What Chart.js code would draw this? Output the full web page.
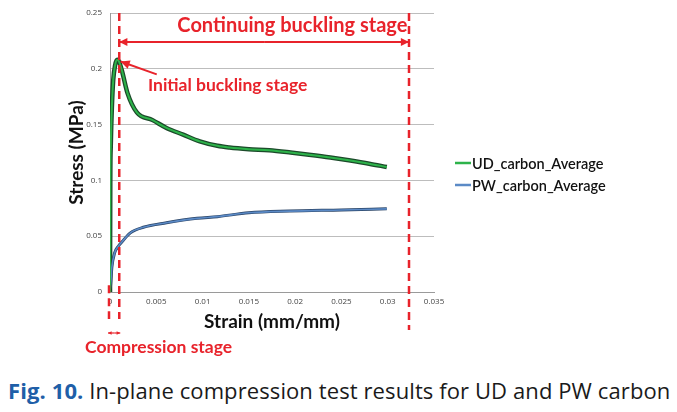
<!DOCTYPE html>
<html>
<head>
<meta charset="utf-8">
<script src="https://cdn.jsdelivr.net/npm/chart.js@4"></script>
<style>
  body { margin: 0; background: #fff; width: 677px; height: 412px; overflow: hidden; }
  #wrap { position: absolute; left: 0; top: 0; width: 677px; height: 370px; }
  #cap { position: absolute; left: 8px; top: 375px; font-family: 'Open Sans'; font-size: 22px; color: #1a1a1a; white-space: nowrap; letter-spacing: 0.1px; }
  #cap b { color: #1f5fa8; }
</style>
</head>
<body>
<div id="wrap"><canvas id="chart"></canvas></div>
<div id="cap"><b>Fig. 10.</b> In-plane compression test results for UD and PW carbon</div>
<script>
// values
const udStrain = [0, 0.00003, 0.00008, 0.0002, 0.00035, 0.00055, 0.00078, 0.001, 0.0013, 0.0019, 0.0029, 0.0046, 0.0061, 0.0079, 0.0097, 0.0116, 0.0129, 0.015, 0.0172, 0.0195, 0.0215, 0.0238, 0.0258, 0.028, 0.0299];
const udStress = [0, 0.1, 0.13, 0.165, 0.19, 0.203, 0.208, 0.206, 0.198, 0.178, 0.161, 0.154, 0.147, 0.141, 0.135, 0.131, 0.1295, 0.128, 0.127, 0.125, 0.123, 0.1205, 0.118, 0.115, 0.112];
const pwStrain = [0, 0.0001, 0.0002, 0.0005, 0.0009, 0.0013, 0.0022, 0.0036, 0.0061, 0.0094, 0.0116, 0.015, 0.0194, 0.025, 0.0299];
const pwStress = [0, 0.01, 0.022, 0.035, 0.041, 0.045, 0.053, 0.058, 0.062, 0.066, 0.0675, 0.071, 0.0725, 0.0735, 0.0745];
const seriesNames = ['UD_carbon_Average', 'PW_carbon_Average'];
const xTicks = [0, 0.005, 0.01, 0.015, 0.02, 0.025, 0.03, 0.035];
const yTicks = [0, 0.05, 0.1, 0.15, 0.2, 0.25];
// stage markers (strain)
const stageStart = 0.001, stageEnd = 0.0323;

const RED = '#e8232b';
const pts = (xs, ys) => xs.map((v, i) => ({ x: v, y: ys[i] }));

function arrow(ctx, x1, y1, x2, y2, size) {
  const a = Math.atan2(y2 - y1, x2 - x1);
  ctx.beginPath(); ctx.moveTo(x1, y1); ctx.lineTo(x2, y2); ctx.stroke();
  ctx.beginPath();
  ctx.moveTo(x2, y2);
  ctx.lineTo(x2 - size * Math.cos(a - 0.45), y2 - size * Math.sin(a - 0.45));
  ctx.lineTo(x2 - size * Math.cos(a + 0.45), y2 - size * Math.sin(a + 0.45));
  ctx.closePath(); ctx.fill();
}

const annot = {
  id: 'annot',
  afterDraw(c) {
    const { ctx, chartArea: ca, scales: { x, y } } = c;
    ctx.save();
    ctx.strokeStyle = RED; ctx.fillStyle = RED;
    // dashed stage lines
    ctx.lineWidth = 2.5; ctx.setLineDash([8, 5]);
    const xs = x.getPixelForValue(stageStart), xe = x.getPixelForValue(stageEnd), x0 = x.getPixelForValue(0);
    ctx.beginPath();
    ctx.moveTo(xs, ca.top); ctx.lineTo(xs, ca.bottom + 27);
    ctx.moveTo(xe, ca.top); ctx.lineTo(xe, ca.bottom + 38);
    ctx.moveTo(x0 - 1, y.getPixelForValue(0.006)); ctx.lineTo(x0 - 1, ca.bottom + 27);
    ctx.stroke();
    ctx.setLineDash([]);
    // continuing buckling arrow (double headed)
    ctx.lineWidth = 2;
    const ya = y.getPixelForValue(0.224);
    const mid = (xs + xe) / 2;
    arrow(ctx, mid, ya, xe, ya, 9);
    arrow(ctx, mid, ya, xs, ya, 9);
    // initial buckling arrow
    arrow(ctx, x.getPixelForValue(0.00505), y.getPixelForValue(0.195), x.getPixelForValue(0.00115), y.getPixelForValue(0.2065), 10);
    // compression stage arrow
    ctx.lineWidth = 1.2;
    const yc = ca.bottom + 41;
    arrow(ctx, (x0 + xs) / 2, yc, x0 - 2, yc, 4);
    arrow(ctx, (x0 + xs) / 2, yc, xs + 1, yc, 4);
    // labels
    ctx.textBaseline = 'middle';
    ctx.textAlign = 'center';
    ctx.font = 'bold 20px Lato';
    ctx.fillText('Continuing buckling stage', x.getPixelForValue(0.0197), y.getPixelForValue(0.239));
    ctx.textAlign = 'left';
    ctx.font = 'bold 17.5px Lato';
    ctx.fillText('Initial buckling stage', x.getPixelForValue(0.0041), y.getPixelForValue(0.1855));
    ctx.fillText('Compression stage', 85, ca.bottom + 55);
    // legend
    const cols = ['#2db34a', '#5b8ac6'];
    ctx.font = '600 14.5px Lato';
    ctx.fillStyle = '#111';
    seriesNames.forEach((n, i) => {
      const ly = ca.top + 150 + i * 22;
      ctx.strokeStyle = cols[i]; ctx.lineWidth = 2.5;
      ctx.beginPath(); ctx.moveTo(ca.right + 21, ly); ctx.lineTo(ca.right + 37, ly); ctx.stroke();
      ctx.fillText(n, ca.right + 38, ly + 1);
    });
    ctx.restore();
  }
};

const fmt = v => String(Number(v.toFixed(3)));

new Chart(document.getElementById('chart'), {
  type: 'line',
  data: {
    datasets: [
      { label: seriesNames[0], data: pts(udStrain, udStress), borderColor: '#2db34a', borderWidth: 2, order: 1 },
      { label: seriesNames[1], data: pts(pwStrain, pwStress), borderColor: '#5b8ac6', borderWidth: 1.6, order: 1 },
      { label: 'ud-edge', data: pts(udStrain, udStress), borderColor: '#1c4a2a', borderWidth: 4.5, order: 2 },
      { label: 'pw-edge', data: pts(pwStrain, pwStress), borderColor: '#2a4466', borderWidth: 3, order: 2 }
    ]
  },
  options: {
    responsive: true,
    maintainAspectRatio: false,
    animation: false,
    layout: { padding: { top: 13, right: 243, bottom: 0, left: 60 } },
    elements: { point: { radius: 0 }, line: { cubicInterpolationMode: 'monotone', fill: false } },
    plugins: { legend: { display: false }, tooltip: { enabled: false } },
    scales: {
      x: {
        type: 'linear', min: 0, max: 0.035,
        afterBuildTicks: s => { s.ticks = xTicks.map(v => ({ value: v })); },
        afterFit: s => { s.height = 78; },
        ticks: { callback: fmt, color: '#444', font: { family: 'Open Sans', size: 8 }, padding: 5, maxRotation: 0 },
        grid: { display: false, drawTicks: false },
        border: { color: '#9a9a9a' },
        title: { display: true, text: 'Strain (mm/mm)', color: '#111', font: { family: 'Lato', size: 19, weight: 'bold' }, padding: { top: 0, bottom: 37 } }
      },
      y: {
        type: 'linear', min: 0, max: 0.25,
        afterBuildTicks: s => { s.ticks = yTicks.map(v => ({ value: v })); },
        afterFit: s => { s.width = 50; },
        ticks: { callback: fmt, color: '#444', font: { family: 'Open Sans', size: 8 }, padding: 8 },
        grid: { color: '#bdbdbd', drawTicks: false },
        border: { color: '#9a9a9a' },
        title: { display: true, text: 'Stress (MPa)', color: '#111', font: { family: 'Lato', size: 19, weight: 'bold' }, padding: { top: 5, bottom: 0 } }
      }
    }
  },
  plugins: [annot]
});
</script>
</body>
</html>
